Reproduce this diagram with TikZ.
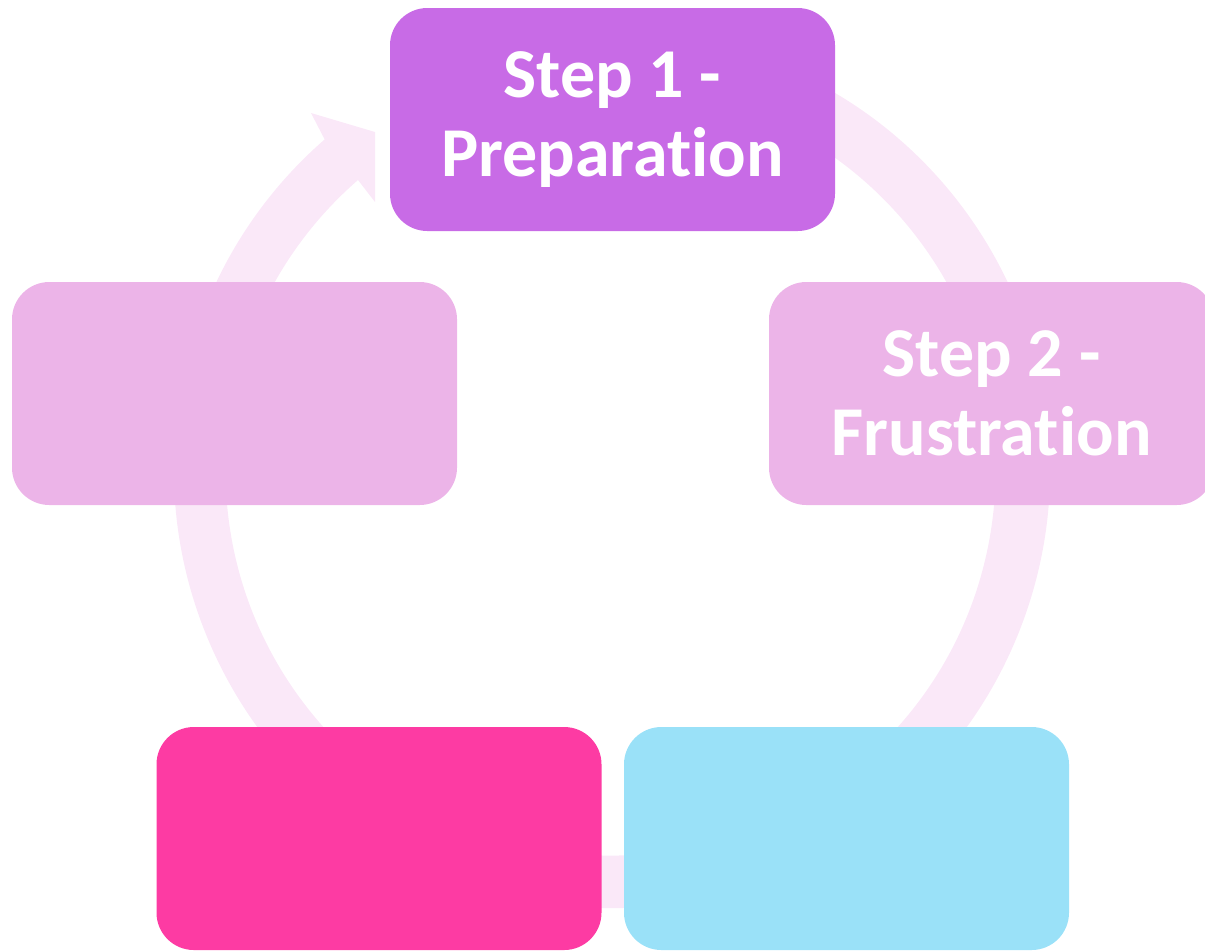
\documentclass[tikz,border=0pt]{standalone}
\usepackage{fontspec}
\setmainfont{Carlito}[Ligatures={NoCommon,NoDiscretionary,NoContextual}]
\usepackage{xcolor}
\definecolor{bandpink}{RGB}{250,232,248}
\definecolor{steppurple}{RGB}{200,107,230}
\definecolor{steplight}{RGB}{236,180,232}
\definecolor{stepmagenta}{RGB}{253,59,163}
\definecolor{stepcyan}{RGB}{154,225,248}

\begin{document}
\begin{tikzpicture}[x=0.75pt, y=0.75pt,
    stepbox/.style={rounded corners=28pt, minimum width=333.75pt, minimum height=167.25pt,
      inner sep=0pt, align=center, text=white, font=\bfseries\fontsize{52.5}{59}\selectfont}]
    \useasboundingbox (0,0) rectangle (1205,-951);
    \fill [bandpink] (612,-470) ++(70:438) arc[start angle=70, end angle=-229, radius=438]
      -- (311,-113) -- (375,-132) -- (375,-202) -- (358,-180)
      arc[start angle=-229, end angle=70, radius=385] -- cycle;
    \node [stepbox, fill=steppurple] (prep) at (612.5,-119.5) {Step 1 -\\Preparation};
    \node [stepbox, fill=steplight] (frust) at (991.5,-393.5) {Step 2 -\\Frustration};
    \node [stepbox, fill=steplight] (left) at (234.5,-393.5) {};
    \node [stepbox, fill=stepmagenta] (botleft) at (379,-838.5) {};
    \node [stepbox, fill=stepcyan] (botright) at (846.5,-838.5) {};
  \end{tikzpicture}
\end{document}
